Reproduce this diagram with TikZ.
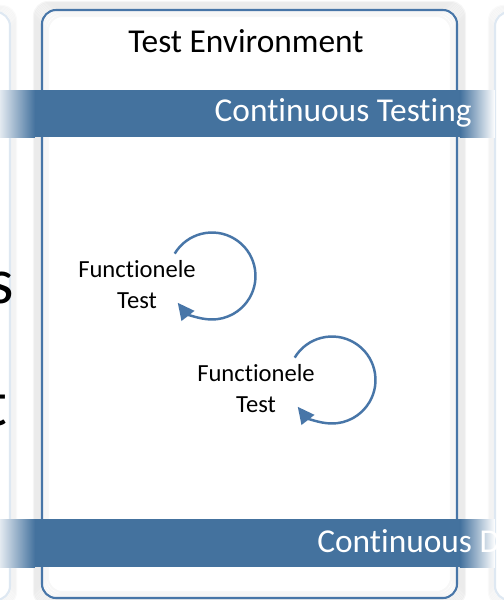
\documentclass[tikz,border=0pt]{standalone}
\usepackage{fontspec}
\setmainfont{Carlito}[Ligatures=NoCommon]
\usetikzlibrary{arrows.meta,positioning}
\definecolor{bandblue}{RGB}{68,114,158}
\definecolor{edgeblue}{RGB}{72,118,168}
\definecolor{paleedge}{RGB}{222,232,242}
\tikzset{
    %Define standard arrow tip
    >={Triangle[length=9.5pt,width=9pt]},
    %Define style for panels
    panel/.style={
           draw=edgeblue,
           line width=1.2pt,
           rounded corners=8pt,
           fill=white},
    ghost/.style={
           draw=paleedge,
           line width=1.2pt,
           rounded corners=8pt,
           fill=white},
    glow/.style={
           draw=black,
           opacity=0.035,
           line width=1.2pt,
           rounded corners=8pt},
    % Define text styles
    title/.style={
           inner sep=0pt,
           font=\fontsize{19}{23}\selectfont},
    bandlabel/.style={
           inner sep=0pt,
           text=white,
           font=\fontsize{19}{23}\selectfont},
    testnode/.style={
           inner sep=0pt,
           align=center,
           font=\fontsize{14}{17.6}\selectfont},
    bigletter/.style={
           inner sep=0pt,
           font=\fontsize{37}{44}\selectfont},
    % Define arrow style
    loopy/.style={
           ->,
           draw=edgeblue,
           line width=1.4pt}
}
\begin{document}
\begin{tikzpicture}[x=0.02cm,y=-0.02cm]
\useasboundingbox (0,0) rectangle (504,600);

 %neighbour panels
\foreach \i in {1,...,6}{
  \draw[glow, opacity=0.02] (-400,12-\i) rectangle (10+\i,600+\i);
  \draw[glow, opacity=0.02] (495-\i,12-\i) rectangle (900,600+\i);
}
\draw[ghost] (-400,12) rectangle (10,600);
\draw[ghost] (495,12) rectangle (900,600);

 %main panel
\foreach \i in {1,...,8}
  \draw[glow] (42-\i,10-\i) rectangle (457+\i,598+\i);
\draw[panel] (42,10) rectangle (457,598);
\foreach \i in {2,4,6}
  \draw[glow, opacity=0.03] (42+\i,10+\i) rectangle (457-\i,598-\i);

 %bands
\fill[bandblue] (35,90) rectangle (460,137);
\shade[left color=bandblue!15, right color=bandblue] (0,90) rectangle (35,137);
\shade[left color=bandblue, right color=white] (460,90) rectangle (495,137);
\fill[bandblue] (35,519) rectangle (460,567);
\shade[left color=bandblue!15, right color=bandblue] (0,519) rectangle (35,567);
\shade[left color=bandblue, right color=white] (460,519) rectangle (495,567);

 %labels
\node[title, anchor=base] (env) at (246,52) {Test Environment};
\node[bandlabel, anchor=base east] (ct) at (472,121) {Continuous Testing};
\node[bandlabel, anchor=base west] (cd) at (317,552) {Continuous D};

\node[bigletter, anchor=base east] (s) at (14,303) {s};
\node[bigletter, anchor=base east] (t) at (8,425) {t};

 %functional tests
\node[testnode] (ft1) at (137,285) {Functionele\\Test};
\node[testnode] (ft2) at (256,389) {Functionele\\Test};
\coordinate (c1) at (212,276);
\coordinate (c2) at (332,380);

\draw[loopy] ([shift={(149:0.87cm)}]c1) arc[start angle=149, end angle=-142, radius=0.87cm];
\draw[loopy] ([shift={(149:0.87cm)}]c2) arc[start angle=149, end angle=-142, radius=0.87cm];

\end{tikzpicture}
\end{document}
